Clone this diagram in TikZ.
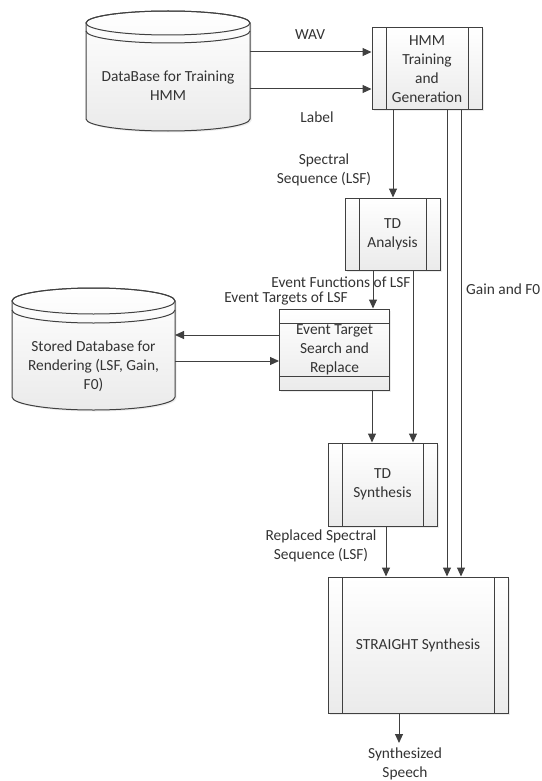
\documentclass[tikz,border=0pt]{standalone}
\usepackage{fontspec}
\setmainfont{Carlito}
\usetikzlibrary{arrows.meta,shadows}
\definecolor{lncol}{HTML}{404040}
\definecolor{txcol}{HTML}{333333}
\begin{document}
\begin{tikzpicture}[x=1pt,y=-1pt,
  txt/.style={text=txcol, align=center, inner sep=0pt, font=\fontsize{15.4pt}{18.8pt}\selectfont},
  base/.style={txt, draw=lncol, line width=1pt, top color=white, bottom color=gray!16,
    drop shadow={opacity=0.15, shadow xshift=1.5pt, shadow yshift=-1.5pt}},
  proc/.style={base, rectangle, path picture={
    \draw[lncol, line width=1pt]
      ([xshift=14pt]path picture bounding box.north west) -- ([xshift=14pt]path picture bounding box.south west)
      ([xshift=-14pt]path picture bounding box.north east) -- ([xshift=-14pt]path picture bounding box.south east);}},
  hproc/.style={base, rectangle, path picture={
    \draw[lncol, line width=1pt]
      ([yshift=-14pt]path picture bounding box.north west) -- ([yshift=-14pt]path picture bounding box.north east)
      ([yshift=14pt]path picture bounding box.south west) -- ([yshift=14pt]path picture bounding box.south east);}},
  cylbody/.style={draw=lncol, line width=1pt, top color=white, bottom color=gray!16,
    drop shadow={opacity=0.15, shadow xshift=1.5pt, shadow yshift=-1.5pt}},
  cylline/.style={draw=lncol, line width=1pt},
  hold/.style={inner sep=0pt, outer sep=0pt, draw=none, fill=none},
  arr/.style={lncol, line width=1pt, -{Triangle[length=9pt,width=8pt]}},
  wire/.style={lncol, line width=1pt}
]
\useasboundingbox (0,0) rectangle (541,781);

% ---- cylinder 1: DataBase for Training HMM
\path[cylbody] (86,23) -- (86,119) arc[start angle=180,end angle=360,x radius=82pt,y radius=12pt]
   -- (250,23) arc[start angle=0,end angle=180,x radius=82pt,y radius=12pt] -- cycle;
\draw[cylline] (168,23) ellipse [x radius=82pt, y radius=12pt];
\draw[cylline] (86,31) arc[start angle=180,end angle=360,x radius=82pt,y radius=12pt];
\node[hold, minimum width=164pt, minimum height=120pt] (db1) at (168,71) {};
\node[txt] (db1t) at (168,86) {DataBase for Training\\HMM};

% ---- cylinder 2: Stored Database
\path[cylbody] (12,301) -- (12,397) arc[start angle=180,end angle=360,x radius=81.5pt,y radius=13pt]
   -- (175,301) arc[start angle=0,end angle=180,x radius=81.5pt,y radius=13pt] -- cycle;
\draw[cylline] (93.5,301) ellipse [x radius=81.5pt, y radius=13pt];
\draw[cylline] (12,310) arc[start angle=180,end angle=360,x radius=81.5pt,y radius=13pt];
\node[hold, minimum width=163pt, minimum height=122pt] (db2) at (93.5,349) {};
\node[txt] (db2t) at (93.5,366) {Stored Database for\\Rendering (LSF, Gain,\\F0)};

% ---- process boxes
\node[proc, minimum width=110pt, minimum height=82pt] (hmm) at (427,69) {HMM\\Training\\and\\Generation};
\node[proc, minimum width=95pt, minimum height=72pt] (tda) at (392.5,234) {TD\\Analysis};
\node[hproc, minimum width=110pt, minimum height=81pt] (evt) at (334.5,349.5) {Event Target\\Search and\\Replace};
\node[proc, minimum width=109pt, minimum height=83pt] (tds) at (382.5,484.5) {TD\\Synthesis};
\node[proc, minimum width=180pt, minimum height=136pt] (str) at (418,645) {STRAIGHT Synthesis};

% ---- labels
\node[txt] (lwav) at (310,35) {WAV};
\node[txt] (llab) at (317,117) {Label};
\node[txt] (lspec) at (324,170) {Spectral\\Sequence (LSF)};
\node[txt] (lfun) at (341,282) {Event Functions of LSF};
\node[txt] (ltar) at (286,299) {Event Targets of LSF};
\node[txt, anchor=west] (lgain) at (466,289) {Gain and F0};
\node[txt] (lrep) at (321,546) {Replaced Spectral\\Sequence (LSF)};
\node[txt] (lout) at (405,764) {Synthesized\\Speech};
\coordinate (outend) at (399,743);

% ---- connectors
\draw[arr] (db1.east |- 0,52) -- (hmm.west |- 0,52);
\draw[arr] (db1.east |- 0,89) -- (hmm.west |- 0,89);
\draw[arr] (hmm.south -| 393,0) -- (tda.north -| 393,0);
\draw[arr] (hmm.south -| 447,0) -- (str.north -| 447,0);
\draw[arr] (hmm.south -| 461,0) -- (str.north -| 461,0);
\draw[arr] (tda.south -| 373,0) -- (evt.north -| 373,0);
\draw[arr] (tda.south -| 413,0) -- (tds.north -| 413,0);
\draw[arr] (evt.west |- 0,335) -- (db2.east |- 0,335);
\draw[arr] (db2.east |- 0,361) -- (evt.west |- 0,361);
\draw[arr] (evt.south -| 372,0) -- (tds.north -| 372,0);
\draw[arr] (tds.south -| 386,0) -- (str.north -| 386,0);
\draw[arr] (str.south -| outend) -- (outend);
\end{tikzpicture}
\end{document}
